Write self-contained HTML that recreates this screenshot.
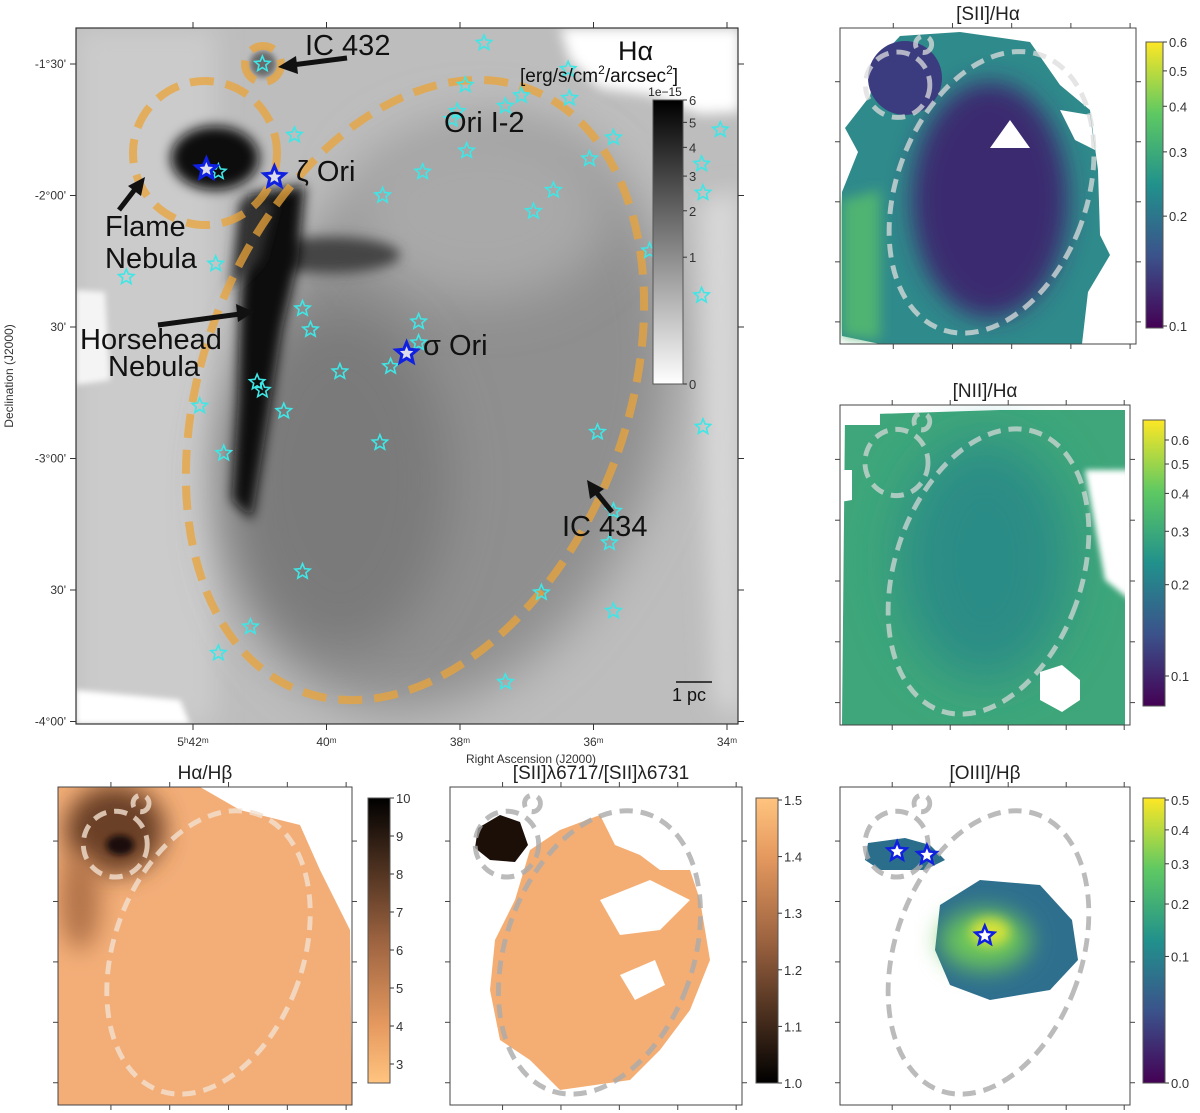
<!DOCTYPE html>
<html><head><meta charset="utf-8"><style>
html,body{margin:0;padding:0;background:#fff;}
svg{display:block;font-family:"Liberation Sans","DejaVu Sans",sans-serif;}
</style></head><body>
<svg id="fig" width="1200" height="1113" viewBox="0 0 1200 1113" xmlns="http://www.w3.org/2000/svg">
<defs>
<filter id="b3" x="-50%" y="-50%" width="200%" height="200%"><feGaussianBlur stdDeviation="3"/></filter>
<filter id="b6" x="-50%" y="-50%" width="200%" height="200%"><feGaussianBlur stdDeviation="6"/></filter>
<filter id="b12" x="-50%" y="-50%" width="200%" height="200%"><feGaussianBlur stdDeviation="12"/></filter>
<filter id="b25" x="-50%" y="-50%" width="200%" height="200%"><feGaussianBlur stdDeviation="25"/></filter>
<clipPath id="cMain"><rect x="76" y="28" width="662" height="696"/></clipPath>
<clipPath id="cS2"><rect x="840" y="28" width="296" height="316"/></clipPath>
<clipPath id="cN2"><rect x="840" y="405" width="290" height="320"/></clipPath>
<clipPath id="cHB"><rect x="58" y="787" width="294" height="318"/></clipPath>
<clipPath id="cSR"><rect x="450" y="787" width="292" height="318"/></clipPath>
<clipPath id="cO3"><rect x="840" y="787" width="290" height="318"/></clipPath>
<linearGradient id="gGray" x1="0" y1="1" x2="0" y2="0">
<stop offset="0" stop-color="#fff"/><stop offset="0.4" stop-color="#999"/><stop offset="0.6" stop-color="#666"/><stop offset="0.8" stop-color="#333"/><stop offset="1" stop-color="#000"/></linearGradient>
<linearGradient id="gVir" x1="0" y1="1" x2="0" y2="0">
<stop offset="0" stop-color="#440154"/><stop offset="0.25" stop-color="#3b528b"/><stop offset="0.5" stop-color="#21918c"/><stop offset="0.75" stop-color="#5ec962"/><stop offset="1" stop-color="#fde725"/></linearGradient>
<linearGradient id="gCop" x1="0" y1="1" x2="0" y2="0">
<stop offset="0" stop-color="#000"/><stop offset="0.5" stop-color="#9c6340"/><stop offset="0.8" stop-color="#e69a5f"/><stop offset="1" stop-color="#ffc47f"/></linearGradient>
<linearGradient id="gCopR" x1="0" y1="0" x2="0" y2="1">
<stop offset="0" stop-color="#000"/><stop offset="0.5" stop-color="#9c6340"/><stop offset="0.8" stop-color="#e69a5f"/><stop offset="1" stop-color="#ffc47f"/></linearGradient>
<g id="ells">
<ellipse cx="415" cy="390" rx="212" ry="322" transform="rotate(21 415 390)" fill="none"/>
<circle cx="205" cy="153" r="72" fill="none"/>
<circle cx="263" cy="64" r="18" fill="none"/>
</g>
</defs>

<!-- MAIN PANEL -->
<g clip-path="url(#cMain)">
<rect x="76" y="28" width="662" height="696" fill="#bdbdbd"/>
<rect x="76" y="28" width="140" height="696" fill="#cbcbcb" filter="url(#b12)"/>
<ellipse cx="450" cy="420" rx="210" ry="300" transform="rotate(21 450 420)" fill="#8f8f8f" filter="url(#b25)"/>
<ellipse cx="480" cy="210" rx="130" ry="90" fill="#a9a9a9" filter="url(#b25)"/>
<ellipse cx="340" cy="480" rx="110" ry="170" fill="#7a7a7a" filter="url(#b25)"/>
<path d="M560,28 L740,28 L740,112 L700,114 L650,95 L600,88 L570,60 Z" fill="#fff" filter="url(#b6)"/>
<path d="M700,200 L740,190 L740,720 L715,700 L705,500 Z" fill="#d8d8d8" filter="url(#b12)"/>
<path d="M76,290 L105,292 L110,380 L76,385 Z" fill="#f4f4f4" filter="url(#b3)"/>
<path d="M76,690 L180,700 L190,724 L76,724 Z" fill="#fff" filter="url(#b3)"/>
<ellipse cx="330" cy="255" rx="70" ry="18" fill="#444" filter="url(#b6)"/>
<path d="M248,195 L305,185 L298,262 L282,330 L268,420 L252,520 L232,500 L238,400 L240,300 Z" fill="#0c0c0c" filter="url(#b6)"/>
<path d="M240,200 L275,200 L260,260 L230,290 Z" fill="#333" filter="url(#b6)"/>
<ellipse cx="215" cy="158" rx="44" ry="32" fill="#080808" filter="url(#b6)"/>
<circle cx="263" cy="64" r="13" fill="#6a6a6a" filter="url(#b3)"/>
<use href="#ells" stroke="#eaa43a" stroke-opacity="0.75" stroke-width="8" stroke-dasharray="24 12"/>
<g id="starsMain"></g>
</g>
<rect x="76" y="28" width="662" height="696" fill="none" stroke="#333" stroke-width="1.2"/>
<g id="mainTicks"></g>
<text x="531" y="763" font-size="12" fill="#333" text-anchor="middle">Right Ascension (J2000)</text>
<text transform="translate(13,376) rotate(-90)" font-size="12" fill="#333" text-anchor="middle">Declination (J2000)</text>

<!-- annotations -->
<g font-size="29" fill="#111">
<text x="305" y="55">IC 432</text>
<text x="296" y="181">ζ Ori</text>
<text x="444" y="132">Ori I-2</text>
<text x="105" y="236">Flame</text>
<text x="105" y="268">Nebula</text>
<text x="80" y="349">Horsehead</text>
<text x="108" y="376">Nebula</text>
<text x="423" y="355">σ Ori</text>
<text x="562" y="536">IC 434</text>
<text x="618" y="60" font-size="27">Hα</text>
<text x="520" y="82" font-size="19">[erg/s/cm<tspan font-size="12" dy="-8">2</tspan><tspan dy="8">/arcsec</tspan><tspan font-size="12" dy="-8">2</tspan><tspan dy="8">]</tspan></text>
<text x="672" y="701" font-size="18">1 pc</text>
</g>
<line x1="676" y1="682" x2="712" y2="682" stroke="#111" stroke-width="1.5"/>
<g stroke="#111" stroke-width="5" fill="#111">
<line x1="347" y1="58" x2="292" y2="65"/><polygon points="278,67 296,56 298,74" stroke="none"/>
<line x1="119" y1="210" x2="136" y2="188"/><polygon points="145,177 128,186 141,196" stroke="none"/>
<line x1="158" y1="325" x2="240" y2="314"/><polygon points="254,312 236,304 238,322" stroke="none"/>
<line x1="612" y1="512" x2="596" y2="492"/><polygon points="587,480 590,499 604,489" stroke="none"/>
</g>
<rect x="653" y="100" width="30" height="284" fill="url(#gGray)" stroke="#555" stroke-width="1"/>
<text x="665" y="96" font-size="12" fill="#222" text-anchor="middle">1e−15</text>
<g id="cbMainTicks"></g>

<!-- SII/Halpha -->
<text x="988" y="20" font-size="19" fill="#222" text-anchor="middle">[SII]/Hα</text>
<g clip-path="url(#cS2)">
<path d="M900,36 L960,32 L1030,42 L1060,85 L1090,110 L1098,170 L1100,235 L1110,255 L1088,292 L1082,344 L880,344 L842,336 L842,192 L858,152 L845,128 L870,96 L878,60 Z" fill="#2f8a8b"/>
<path d="M842,200 L880,190 L880,340 L842,336 Z" fill="#4fb372" filter="url(#b6)"/>
<ellipse cx="990" cy="200" rx="78" ry="118" fill="#3b2a70" filter="url(#b12)"/>
<circle cx="905" cy="78" r="37" fill="#3b3c80"/>
<path d="M990,148 L1010,120 L1030,148 Z" fill="#fff"/>
<path d="M1060,110 L1090,115 L1095,150 L1075,140 Z" fill="#fff"/>
<g transform="translate(840,28) scale(0.447,0.454) translate(-76,-28)"><use href="#ells" stroke="#dcdcdc" stroke-opacity="0.75" stroke-width="11" stroke-dasharray="30 18"/></g>
</g>
<rect x="840" y="28" width="296" height="316" fill="none" stroke="#444"/>
<rect x="1146" y="42" width="17" height="286" fill="url(#gVir)" stroke="#555"/>
<g id="cbS2"></g>

<!-- NII/Halpha -->
<text x="985" y="397" font-size="19" fill="#222" text-anchor="middle">[NII]/Hα</text>
<g clip-path="url(#cN2)">
<path d="M845,415 L1000,410 L1125,410 L1125,725 L842,725 Z" fill="#3ea67a"/>
<ellipse cx="985" cy="560" rx="85" ry="120" fill="#2a8c86" filter="url(#b25)"/>
<rect x="840" y="405" width="40" height="20" fill="#fff"/>
<path d="M1085,470 L1130,470 L1130,600 L1105,580 Z" fill="#fff" filter="url(#b3)"/>
<polygon points="1040,672 1062,665 1080,680 1080,700 1062,712 1040,700" fill="#fff"/>
<path d="M840,470 L852,470 L852,500 L840,502 Z" fill="#fff"/>
<g transform="translate(840,405) scale(0.438,0.46) translate(-76,-28)"><use href="#ells" stroke="#dcdcdc" stroke-opacity="0.7" stroke-width="11" stroke-dasharray="30 18"/></g>
</g>
<rect x="840" y="405" width="290" height="320" fill="none" stroke="#444"/>
<rect x="1143" y="420" width="22" height="286" fill="url(#gVir)" stroke="#555"/>
<g id="cbN2"></g>

<!-- Halpha/Hbeta -->
<text x="205" y="779" font-size="19" fill="#222" text-anchor="middle">Hα/Hβ</text>
<g clip-path="url(#cHB)">
<path d="M58,787 L200,787 L240,810 L300,825 L320,870 L350,930 L352,1105 L58,1105 Z" fill="#f3ae78"/>
<ellipse cx="115" cy="830" rx="50" ry="45" fill="#6b4128" filter="url(#b12)"/>
<ellipse cx="120" cy="845" rx="14" ry="10" fill="#1a0e08" filter="url(#b3)"/>
<ellipse cx="80" cy="900" rx="20" ry="50" fill="#b27348" filter="url(#b12)"/>
<g transform="translate(58,787) scale(0.444,0.457) translate(-76,-28)"><use href="#ells" stroke="#f2e0d0" stroke-opacity="0.8" stroke-width="11" stroke-dasharray="30 18"/></g>
</g>
<rect x="58" y="787" width="294" height="318" fill="none" stroke="#444"/>
<rect x="368" y="798" width="22" height="285" fill="url(#gCopR)" stroke="#555"/>
<g id="cbHB"></g>

<!-- SII ratio -->
<text x="601" y="779" font-size="19" fill="#222" text-anchor="middle">[SII]λ6717/[SII]λ6731</text>
<g clip-path="url(#cSR)">
<path d="M530,850 L560,830 L600,815 L615,845 L640,855 L660,870 L690,870 L700,900 L710,960 L690,1010 L660,1050 L630,1080 L560,1090 L530,1060 L500,1040 L490,990 L495,940 L515,900 Z" fill="#f4ae74"/>
<path d="M600,900 L650,880 L690,900 L660,930 L620,935 Z" fill="#fff"/>
<path d="M620,975 L655,960 L665,985 L635,1000 Z" fill="#fff"/>
<path d="M478,828 L500,815 L520,822 L528,845 L515,862 L490,860 L475,848 Z" fill="#1c0f08"/>
<g transform="translate(450,787) scale(0.441,0.457) translate(-76,-28)"><use href="#ells" stroke="#aaa" stroke-opacity="0.8" stroke-width="11" stroke-dasharray="30 18"/></g>
</g>
<rect x="450" y="787" width="292" height="318" fill="none" stroke="#444"/>
<rect x="756" y="798" width="22" height="285" fill="url(#gCop)" stroke="#555"/>
<g id="cbSR"></g>

<!-- OIII/Hbeta -->
<text x="985" y="779" font-size="19" fill="#222" text-anchor="middle">[OIII]/Hβ</text>
<g clip-path="url(#cO3)">
<path d="M868,843 L905,838 L930,845 L945,860 L925,870 L880,870 L865,860 Z" fill="#2a6e8c"/>
<path d="M940,905 L980,880 L1040,885 L1072,920 L1078,960 L1050,990 L990,1000 L950,985 L935,950 Z" fill="#2e6f8e"/>
<ellipse cx="985" cy="940" rx="45" ry="30" fill="#6cc65a" filter="url(#b12)"/>
<ellipse cx="990" cy="932" rx="20" ry="14" fill="#d5e23a" filter="url(#b6)"/>
<g transform="translate(840,787) scale(0.438,0.457) translate(-76,-28)"><use href="#ells" stroke="#aaa" stroke-opacity="0.8" stroke-width="11" stroke-dasharray="30 18"/></g>
<g id="starsO3"></g>
</g>
<rect x="840" y="787" width="290" height="318" fill="none" stroke="#444"/>
<rect x="1143" y="798" width="22" height="285" fill="url(#gVir)" stroke="#555"/>
<g id="cbO3"></g>
<g id="smallTicks"></g>
</svg>
<script>
// Star catalogue (RA minutes of 5h, Dec degrees)
const starRA = [37.64,40.96,37.92,36.38,38.04,38.12,37.32,37.08,36.36,40.48,35.70,37.90,34.10,36.06,34.38,36.60,41.62,38.56,36.90,39.16,34.36,35.16,41.66,43.00,34.38,40.36,40.24,38.62,38.62,39.04,39.80,41.04,40.96,40.64,41.90,39.20,41.54,35.94,34.36,35.70,35.76,40.36,36.78,35.70,41.14,41.62,37.32];
const starDec = [-1.42,-1.50,-1.58,-1.52,-1.68,-1.71,-1.66,-1.62,-1.63,-1.77,-1.78,-1.83,-1.75,-1.86,-1.88,-1.98,-1.91,-1.91,-2.06,-2.00,-1.99,-2.21,-2.26,-2.31,-2.38,-2.43,-2.51,-2.48,-2.56,-2.65,-2.67,-2.71,-2.74,-2.82,-2.80,-2.94,-2.98,-2.90,-2.88,-3.20,-3.32,-3.43,-3.51,-3.58,-3.64,-3.74,-3.85];
const oStarRA = [41.80,40.78,38.80];
const oStarDec = [-1.90,-1.93,-2.60];
const raTicks = [42,40,38,36,34];
const raTickLabels = ["5ʰ42ᵐ","40ᵐ","38ᵐ","36ᵐ","34ᵐ"];
const decTicks = [-1.5,-2.0,-2.5,-3.0,-3.5,-4.0];
const decTickLabels = ["-1°30'","-2°00'","30'","-3°00'","30'","-4°00'"];
const cbMainVals = [0,1,2,3,4,5,6];
const cbS2Vals = [0.1,0.2,0.3,0.4,0.5,0.6];
const cbN2Vals = [0.1,0.2,0.3,0.4,0.5,0.6];
const cbHBVals = [3,4,5,6,7,8,9,10];
const cbSRVals = [1.0,1.1,1.2,1.3,1.4,1.5];
const cbO3Vals = [0.0,0.1,0.2,0.3,0.4,0.5];

const NS='http://www.w3.org/2000/svg';
const xRA = ra => 727 - (ra-34)*66.75;
const yDec = d => 64 + (-1.5-d)*263;
function mk(tag, attrs, parent){const e=document.createElementNS(NS,tag);for(const k in attrs)e.setAttribute(k,attrs[k]);parent.appendChild(e);return e;}
function starPts(cx,cy,R){const r=R*0.45;let p=[];for(let i=0;i<10;i++){const a=-Math.PI/2+i*Math.PI/5;const rr=i%2?r:R;p.push((cx+rr*Math.cos(a)).toFixed(1)+','+(cy+rr*Math.sin(a)).toFixed(1));}return p.join(' ');}

const gs=document.getElementById('starsMain');
starRA.forEach((ra,i)=>{
  const s=mk('polygon',{points:starPts(xRA(ra),yDec(starDec[i]),8),fill:'none',stroke:'#3fe6e6','stroke-width':1.6},gs);
  
  
});
oStarRA.forEach((ra,i)=>{
  const s=mk('polygon',{points:starPts(xRA(ra),yDec(oStarDec[i]),11),fill:'#dde',stroke:'#1020e0','stroke-width':3},gs);
  
  
});
const go=document.getElementById('starsO3');
oStarRA.forEach((ra,i)=>{
  const x=840+(xRA(ra)-76)*0.438, y=787+(yDec(oStarDec[i])-28)*0.457;
  const s=mk('polygon',{points:starPts(x,y,10),fill:'#fff',stroke:'#1020e0','stroke-width':2.5},go);
  
  
});

const mt=document.getElementById('mainTicks');
raTicks.forEach((ra,i)=>{
  const x=xRA(ra);
  mk('line',{x1:x,y1:724,x2:x,y2:730,stroke:'#333'},mt);
  mk('line',{x1:x,y1:28,x2:x,y2:22,stroke:'#333'},mt);
  const t=mk('text',{x:x,y:746,'font-size':12,fill:'#333','text-anchor':'middle'},mt);
  t.textContent=raTickLabels[i];
  
  
});
decTicks.forEach((d,i)=>{
  const y=yDec(d);
  mk('line',{x1:76,y1:y,x2:70,y2:y,stroke:'#333'},mt);
  mk('line',{x1:738,y1:y,x2:744,y2:y,stroke:'#333'},mt);
  const t=mk('text',{x:66,y:y+4,'font-size':12,fill:'#333','text-anchor':'end'},mt);
  t.textContent=decTickLabels[i];
  
  
});

function colorbar(id,vals,pos,x,fixed){
  const g=document.getElementById(id);
  vals.forEach(v=>{
    const y=pos(v);
    mk('line',{x1:x,y1:y,x2:x+4,y2:y,stroke:'#333'},g);
    const t=mk('text',{x:x+6,y:y+5,'font-size':13,fill:'#333'},g);
    t.textContent=fixed?v.toFixed(1):String(v);
    
    
  });
}
colorbar('cbMainTicks',cbMainVals,v=>384-284*Math.pow(v/6,0.45),683,false);
colorbar('cbS2',cbS2Vals,v=>326-284*Math.log(v/0.1)/Math.log(6),1163,true);
colorbar('cbN2',cbN2Vals,v=>676-236*Math.log(v/0.1)/Math.log(6),1165,true);
colorbar('cbHB',cbHBVals,v=>1083-(v-2.5)*38,390,false);
colorbar('cbSR',cbSRVals,v=>1083-(v-1.0)*566,778,true);
colorbar('cbO3',cbO3Vals,v=>1083-283*Math.pow(v/0.5,0.5),1165,true);

const st=document.getElementById('smallTicks');
[[840,28,296,316],[840,405,290,320],[58,787,294,318],[450,787,292,318],[840,787,290,318]].forEach(p=>{
  for(let i=1;i<=5;i++){const x=p[0]+p[2]*(i*0.2-0.02);mk('line',{x1:x,y1:p[1]+p[3],x2:x,y2:p[1]+p[3]+5,stroke:'#444'},st);mk('line',{x1:x,y1:p[1],x2:x,y2:p[1]-5,stroke:'#444'},st);}
  for(let i=1;i<=5;i++){const y=p[1]+p[3]*(i*0.19-0.02);mk('line',{x1:p[0],y1:y,x2:p[0]-5,y2:y,stroke:'#444'},st);mk('line',{x1:p[0]+p[2],y1:y,x2:p[0]+p[2]+5,y2:y,stroke:'#444'},st);}
});
</script>
</body></html>
